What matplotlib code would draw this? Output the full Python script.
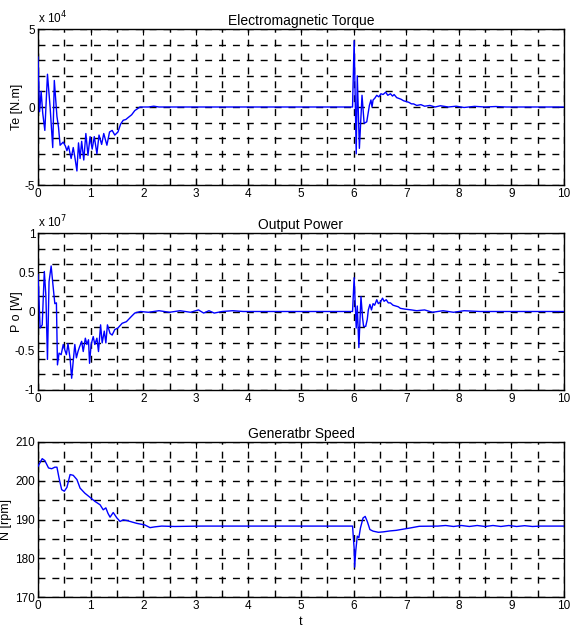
import matplotlib
matplotlib.use("Agg")
import matplotlib.pyplot as plt
from matplotlib.ticker import MultipleLocator, FixedLocator

plt.rcParams["font.family"] = ["Liberation Sans Narrow", "Liberation Sans", "DejaVu Sans"]

# Electromagnetic torque (x 1e4 N.m)
t_te = [0.0, 0.03, 0.06, 0.09, 0.13, 0.18, 0.23, 0.28, 0.31, 0.36, 0.39, 0.42, 0.48, 0.52,
        0.55, 0.58, 0.61, 0.63, 0.67, 0.70, 0.74, 0.77, 0.80, 0.83, 0.87, 0.91, 0.95, 0.99,
        1.03, 1.07, 1.12, 1.16, 1.21, 1.25, 1.31, 1.36, 1.41, 1.46, 1.52, 1.57, 1.62, 1.67,
        1.72, 1.78, 1.84, 1.94, 2.10, 2.20, 2.30, 5.98,
        6.01, 6.05, 6.07, 6.11, 6.16, 6.20, 6.25, 6.30, 6.33, 6.35, 6.37, 6.40, 6.44, 6.48,
        6.52, 6.56, 6.61, 6.65, 6.70, 6.74, 6.77, 6.82, 6.86, 6.90, 6.95, 7.00, 7.05, 7.10,
        7.14, 7.20, 7.28, 7.35, 7.45, 7.55, 7.65, 7.80, 7.95, 8.10, 8.30, 8.50, 8.70, 8.90,
        9.10, 10.0]
te = [3.2, -0.3, 1.0, -0.4, -1.5, 2.1, 0.0, -2.6, 1.7, -0.6, -1.3, -2.45, -2.25, -2.5,
      -2.8, -2.5, -3.0, -3.3, -2.6, -3.2, -4.1, -2.3, -3.3, -2.2, -3.4, -1.7, -3.1, -1.9,
      -2.7, -1.9, -3.0, -1.8, -2.4, -1.7, -2.45, -1.6, -1.5, -1.8, -1.6, -1.1, -0.85, -0.8,
      -0.66, -0.5, -0.23, 0.0, 0.0, 0.05, 0.0, 0.0,
      4.25, -3.0, 2.0, -2.65, 0.75, -1.05, -0.95, 0.1, 0.45, 0.0, 0.45, 0.55, 0.75, 0.65,
      0.85, 0.8, 0.95, 0.75, 0.85, 0.7, 0.8, 0.6, 0.55, 0.5, 0.4, 0.35, 0.3, 0.2,
      0.2, 0.1, 0.15, 0.05, 0.1, 0.0, 0.08, 0.0, 0.05, -0.03, 0.04, 0.0, 0.03, 0.0,
      0.0, 0.0]

# Output power (x 1e7 W)
t_po = [0.0, 0.04, 0.08, 0.12, 0.15, 0.18, 0.21, 0.25, 0.29, 0.32, 0.35, 0.37, 0.40, 0.44,
        0.48, 0.51, 0.54, 0.57, 0.61, 0.64, 0.67, 0.70, 0.73, 0.76, 0.79, 0.83, 0.86, 0.90,
        0.93, 0.96, 0.98, 1.01, 1.05, 1.08, 1.12, 1.15, 1.19, 1.22, 1.26, 1.29, 1.32, 1.37,
        1.41, 1.46, 1.52, 1.60, 1.68, 1.78, 1.84, 1.95, 2.10, 2.30, 2.50, 2.70, 2.90, 3.05,
        3.15, 3.25, 3.35, 3.50, 3.70, 3.90, 5.98,
        6.01, 6.05, 6.07, 6.10, 6.14, 6.17, 6.19, 6.23, 6.26, 6.28, 6.31, 6.34, 6.37, 6.40,
        6.44, 6.47, 6.51, 6.55, 6.58, 6.62, 6.66, 6.70, 6.75, 6.80, 6.85, 6.89, 6.98, 7.10,
        7.20, 7.35, 7.50, 7.70, 7.90, 8.10, 8.40, 8.70, 9.00, 10.0]
po = [0.47, -0.21, -0.17, 0.51, 0.2, -0.61, 0.38, 0.58, 0.3, 0.1, 0.11, -0.68, -0.53, -0.55,
      -0.42, -0.49, -0.55, -0.41, -0.6, -0.85, -0.63, -0.42, -0.59, -0.51, -0.45, -0.38, -0.51, -0.34,
      -0.42, -0.36, -0.66, -0.42, -0.32, -0.42, -0.34, -0.51, -0.17, -0.4, -0.25, -0.4, -0.17, -0.28,
      -0.3, -0.23, -0.21, -0.15, -0.13, -0.06, -0.02, 0.0, -0.01, 0.01, -0.01, 0.01, -0.01, 0.02,
      -0.02, 0.01, -0.02, 0.0, 0.01, 0.0, 0.0,
      0.43, -0.21, 0.07, -0.46, 0.19, -0.08, -0.19, -0.19, -0.1, 0.02, 0.09, 0.02, 0.1, 0.08,
      0.15, 0.1, 0.12, 0.17, 0.13, 0.15, 0.11, 0.11, 0.08, 0.07, 0.06, 0.04, 0.03, 0.02,
      0.01, 0.02, -0.01, 0.01, -0.01, 0.01, 0.0, 0.0, 0.0, 0.0]

# Generator speed (rpm)
t_n = [0.0, 0.08, 0.13, 0.20, 0.26, 0.32, 0.36, 0.40, 0.45, 0.50, 0.55, 0.61, 0.67, 0.74,
       0.80, 0.89, 0.99, 1.08, 1.18, 1.24, 1.29, 1.33, 1.37, 1.43, 1.50, 1.56, 1.62, 1.70,
       1.80, 1.88, 2.03, 2.13, 2.22, 2.35, 2.60, 3.10, 5.98,
       6.01, 6.02, 6.04, 6.07, 6.10, 6.13, 6.18, 6.22, 6.26, 6.31, 6.37, 6.47, 6.56, 6.69,
       6.81, 6.94, 7.07, 7.19, 7.25, 7.60, 7.75, 7.90, 8.05, 8.20, 8.35, 8.50, 8.65, 8.80,
       8.95, 9.10, 9.25, 9.40, 9.55, 10.0]
n = [203.7, 205.7, 205.2, 203.3, 203.1, 203.5, 203.5, 200.7, 197.7, 197.3, 198.3, 201.6, 201.4, 200.3,
     198.1, 196.8, 195.7, 194.7, 193.8, 192.5, 193.0, 191.6, 190.6, 191.8, 190.4, 189.5, 189.9, 189.7,
     189.3, 189.0, 188.6, 187.9, 188.1, 188.3, 188.2, 188.3, 188.3,
     182.6, 177.7, 181.8, 185.7, 185.3, 187.8, 190.4, 190.8, 189.5, 187.4, 187.0, 186.7, 186.8, 187.05,
     187.2, 187.5, 187.8, 188.1, 188.25, 188.3, 188.45, 188.2, 188.45, 188.2, 188.45, 188.2, 188.45, 188.2,
     188.45, 188.2, 188.4, 188.2, 188.3, 188.3]

W, H = 570, 638
fig = plt.figure(figsize=(W / 100, H / 100), dpi=100)


def make_axes(top, bottom):
    return fig.add_axes([38 / W, 1 - bottom / H, 526 / W, (bottom - top) / H])


panels = [
    (make_axes(29, 185), t_te, te, (-5, 5), [-5, 0, 5], 1, "Te [N.m]", "Electromagnetic Torque", "4", -0.028),
    (make_axes(233, 390), t_po, po, (-1, 1), [-1, -0.5, 0, 0.5, 1], 0.2, "P o [W]", "Output Power", "7", -0.028),
    (make_axes(442, 597), t_n, n, (170, 210), [170, 180, 190, 200, 210], 5, "N [rpm]", "Generatbr Speed", None, -0.05),
]

for ax, x, y, ylim, yticks, ystep, ylab, title, expo, labx in panels:
    ax.plot(x, y, color="#0000ff", lw=1.0, zorder=3)
    ax.set_xlim(0, 10)
    ax.set_ylim(*ylim)
    ax.xaxis.remove_overlapping_locs = False
    ax.yaxis.remove_overlapping_locs = False
    ax.xaxis.set_major_locator(MultipleLocator(1))
    ax.xaxis.set_minor_locator(MultipleLocator(0.5))
    ax.yaxis.set_major_locator(FixedLocator(yticks))
    ax.yaxis.set_minor_locator(MultipleLocator(ystep))
    ax.set_yticklabels([f"{v:g}" for v in yticks])
    ax.grid(which="minor", color="black", lw=1.0, linestyle=(0, (5, 5)))
    ax.tick_params(which="major", direction="in", length=4, width=0.8, top=True, right=True,
                   labelsize=8.5, pad=2)
    ax.tick_params(which="minor", length=0)
    for s in ax.spines.values():
        s.set_linewidth(1.0)
    ax.set_ylabel(ylab, fontsize=9)
    ax.yaxis.set_label_coords(labx, 0.5)
    ax.set_title(title, fontsize=10, pad=3)
    if expo:
        ax.text(0.0, 1.02, "x 10$^{%s}$" % expo, transform=ax.transAxes, fontsize=8.5,
                ha="left", va="bottom")

panels[2][0].set_xlabel("t", fontsize=9, labelpad=3)

fig.savefig("out.png", dpi=100)
